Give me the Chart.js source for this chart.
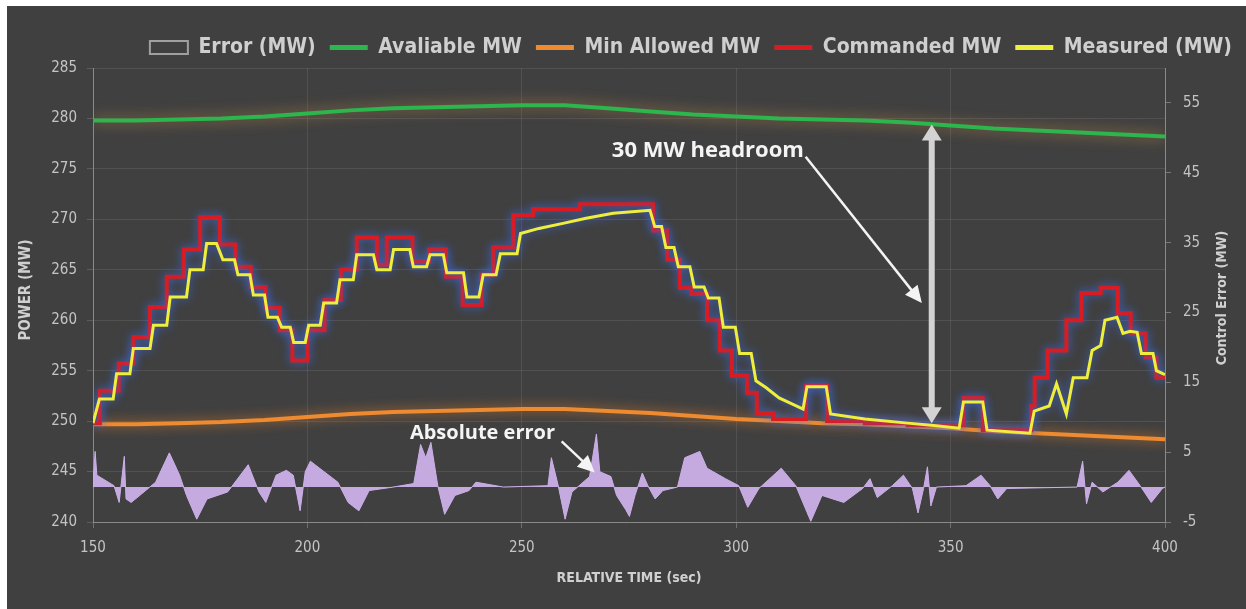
<!DOCTYPE html>
<html>
<head>
<meta charset="utf-8">
<script src="https://cdn.jsdelivr.net/npm/chart.js@4.4.1/dist/chart.umd.min.js"></script>
<style>
  html, body { margin: 0; padding: 0; background: #ffffff; }
  #wrap { position: absolute; left: 7px; top: 6px; width: 1239px; height: 603px; background: #404040; }
</style>
</head>
<body>
<div id="wrap"><canvas id="chart"></canvas></div>
<script>
// x ticks, y ticks
const timeTicks = [150, 200, 250, 300, 350, 400];
const powerTicks = [240, 245, 250, 255, 260, 265, 270, 275, 280, 285];
const errorTicks = [-5, 5, 15, 25, 35, 45, 55];

// Available / min allowed (sampled every 10 s)
const availT  = [150, 160, 170, 180, 190, 200, 210, 220, 230, 240, 250, 260, 270, 280, 290, 300, 310, 320, 330, 340, 350, 360, 370, 380, 390, 400];
const availMW = [279.8, 279.8, 279.9, 280.0, 280.2, 280.5, 280.8, 281.0, 281.1, 281.2, 281.3, 281.3, 281.0, 280.7, 280.4, 280.2, 280.0, 279.9, 279.8, 279.6, 279.3, 279.0, 278.8, 278.6, 278.4, 278.2];
const minMW   = [249.7, 249.7, 249.8, 249.9, 250.1, 250.4, 250.7, 250.9, 251.0, 251.1, 251.2, 251.2, 251.0, 250.8, 250.5, 250.2, 250.0, 249.8, 249.7, 249.5, 249.3, 249.0, 248.8, 248.6, 248.4, 248.2];

// Commanded MW: time of each set-point change and the new value
const cmdT  = [150, 151.6, 156, 159.4, 163.3, 167.2, 171.2, 175, 179.6, 183.2,
               186.8, 190.2, 193.6, 196.5, 200, 204, 207.8, 211.5, 216.2, 218.5,
               224.5, 228.4, 232.3, 236.2, 240.6, 243.3, 248, 252.6, 263.6, 280.6,
               283.9, 286.9, 289.5, 293.2, 296.2, 299, 302.5, 304.8, 308.6, 316.3,
               321.2, 330, 340, 353, 357.5, 368.8, 369.6, 372.6, 377, 380.5,
               385, 389, 392, 395.5, 398, 400];
const cmdMW = [249.8, 253, 255.7, 258.3, 261.3, 264.3, 267, 270.2, 267.5, 265.3,
               263.3, 261.2, 259, 256, 259, 262, 265, 268.2, 265.5, 268.2,
               265.8, 267, 264.3, 261.5, 264.5, 267.2, 270.4, 271, 271.5, 268.9,
               266, 263.2, 262.6, 260, 257, 254.5, 252.8, 250.8, 250.2, 253.5,
               250, 249.8, 249.6, 252.3, 249.1, 251.5, 254.3, 257, 260, 262.7,
               263.2, 260.7, 258.7, 256.3, 254.3, 254.3];

// Measured MW
const measT  = [150, 151.5, 154.7, 155.5, 158.6, 159.4, 163.3, 164.1, 167.2, 168,
                171.8, 172.6, 175.7, 176.5, 178.8, 180.3, 183, 183.8, 186.6, 187.4,
                190, 190.8, 193, 194, 196, 196.8, 199.5, 200.3, 203, 203.8,
                206.8, 207.6, 210.7, 211.5, 215.4, 216.2, 219.3, 220.1, 223.9, 224.7,
                227.8, 228.6, 231.7, 232.5, 236.4, 237.2, 240, 241, 244, 245,
                248.9, 249.7, 254, 259.6, 265, 271.3, 279.9, 281, 282.6, 283.6,
                285.5, 286.5, 289.2, 290.2, 292.5, 293.5, 296, 297, 299.8, 300.8,
                303.5, 304.6, 307, 310, 315.6, 316.5, 321, 322, 330, 340,
                345.5, 352, 353, 357.5, 358.5, 368.5, 369.5, 373, 374.7, 377,
                378.6, 381.8, 383, 385, 386, 388.8, 390.2, 391.8, 393.5, 394.5,
                397.2, 398, 400];
const measMW = [249.8, 252.2, 252.2, 254.7, 254.7, 257.2, 257.2, 259.5, 259.5, 262.3,
                262.3, 265, 265, 267.6, 267.6, 266, 266, 264.5, 264.5, 262.5,
                262.5, 260.3, 260.3, 259.3, 259.3, 257.8, 257.8, 259.5, 259.5, 261.7,
                261.7, 264, 264, 266.5, 266.5, 265, 265, 267, 267, 265.3,
                265.3, 266.5, 266.5, 264.7, 264.7, 262.3, 262.3, 264.5, 264.5, 266.6,
                266.6, 268.6, 269.1, 269.6, 270.1, 270.6, 270.9, 269.3, 269.3, 267.2,
                267.2, 265.3, 265.3, 263.3, 263.3, 262.2, 262.2, 259.3, 259.3, 256.7,
                256.7, 254, 253.3, 252.3, 251.2, 253.4, 253.4, 250.7, 250.2, 249.8,
                249.6, 249.3, 251.9, 251.9, 249.1, 248.8, 251, 251.5, 253.7, 250.7,
                254.3, 254.3, 257, 257.5, 260, 260.3, 258.7, 258.9, 258.8, 256.7,
                256.7, 255, 254.6];

// Control error (right axis)
const errT  = [150, 150.1, 150.5, 150.9, 154.9, 156.1, 157.3, 157.7, 158.9, 161.3,
               164.6, 167.8, 170.2, 171.8, 174.2, 176.6, 181.4, 186.2, 188.7, 190.3,
               192.7, 195.1, 196.7, 198.3, 199.5, 200.7, 207.1, 209.5, 212, 214.4,
               220, 224.8, 226.4, 227.6, 228.8, 230.4, 232, 234.4, 237.7, 239.3,
               245.7, 256.1, 256.9, 258.5, 260.1, 261.7, 265.8, 267.4, 268.2, 270.8,
               272.1, 274.2, 275.1, 276.4, 278.1, 279.4, 281.1, 282.9, 286.3, 288,
               291.5, 293.2, 297.5, 300.6, 302.7, 305.3, 310.5, 313.9, 317.4, 320,
               325.1, 329.5, 331.2, 332.9, 336.4, 339, 341.1, 342.4, 343.7, 344.6,
               345.4, 346.7, 353.6, 357.1, 359.2, 361, 363.1, 379.5, 380.8, 381.7,
               383, 385.5, 389, 391.6, 394.2, 396.8, 399.4, 400];
const errMW = [0, 1.5, 5.1, 1.7, 0.2, -2.2, 4.4, -1.7, -2.2, -1.0,
               0.7, 4.9, 1.7, -1.2, -4.6, -1.7, -0.7, 3.2, -0.7, -2.2,
               1.7, 2.4, 1.7, -3.4, 2.2, 3.7, 0.7, -2.2, -3.4, -0.5,
               0, 0.5, 6.1, 4.2, 6.4, 0.2, -3.9, -1.2, -0.5, 0.7,
               0, 0.2, 4.2, 0.2, -4.6, -0.7, 1.5, 7.6, 2.2, 1.5,
               -1.2, -3.2, -4.2, -1.2, 2.0, 0.2, -1.7, -0.5, 0, 4.2,
               5.1, 2.7, 1.2, 0.2, -2.9, -0.2, 2.7, 0.2, -4.9, -1.2,
               -2.2, -0.2, 1.2, -1.5, 0.2, 1.7, -0.2, -3.7, -0.2, 2.9,
               -2.7, 0, 0.2, 1.7, 0.2, -1.7, -0.2, 0, 3.7, -2.4,
               0.7, -0.7, 0.7, 2.4, 0.2, -2.2, -0.2, 0];

// annotation anchors (data coordinates)
const headroomX = 345.6, headroomTop = 279.4, headroomBottom = 249.8;
const headroomLabel = { text: '30 MW headroom', x: 271, y: 276.8, from: [316.2, 276.2], to: [343.3, 261.7] };
const errorLabel = { text: 'Absolute error', x: 223.9, y: 248.8, from: [259.3, 248.0], to: [267.0, 244.9] };

const pts = (ts, vs) => ts.map((t, i) => ({ x: t, y: vs[i] }));
const FONT = '"DejaVu Sans Condensed", "DejaVu Sans", sans-serif';
const ANNOT_FONT = '"Open Sans", "DejaVu Sans", sans-serif';

const glowPlugin = {
  id: 'glow',
  beforeDatasetDraw(chart, args) {
    const ds = chart.data.datasets[args.index];
    chart.ctx.save();
    if (ds.glow) {
      chart.ctx.shadowColor = ds.glow;
      chart.ctx.shadowBlur = ds.glowBlur;
    }
  },
  afterDatasetDraw(chart) {
    chart.ctx.restore();
  }
};

function drawHead(ctx, x1, y1, x2, y2, len, half) {
  const a = Math.atan2(y2 - y1, x2 - x1);
  const bx = x2 - len * Math.cos(a), by = y2 - len * Math.sin(a);
  ctx.beginPath();
  ctx.moveTo(x2, y2);
  ctx.lineTo(bx + half * Math.sin(a), by - half * Math.cos(a));
  ctx.lineTo(bx - half * Math.sin(a), by + half * Math.cos(a));
  ctx.closePath();
  ctx.fill();
}

function drawPointer(ctx, x1, y1, x2, y2) {
  const a = Math.atan2(y2 - y1, x2 - x1);
  ctx.beginPath();
  ctx.moveTo(x1, y1);
  ctx.lineTo(x2 - 14 * Math.cos(a), y2 - 14 * Math.sin(a));
  ctx.stroke();
  drawHead(ctx, x1, y1, x2, y2, 17, 8);
}

const notesPlugin = {
  id: 'notes',
  afterDatasetsDraw(chart) {
    const { ctx, scales: { x, y } } = chart;
    ctx.save();
    // double arrow
    const ax = x.getPixelForValue(headroomX);
    const at = y.getPixelForValue(headroomTop);
    const ab = y.getPixelForValue(headroomBottom);
    ctx.strokeStyle = '#d3d3d3';
    ctx.fillStyle = '#d3d3d3';
    ctx.lineWidth = 6;
    ctx.beginPath();
    ctx.moveTo(ax, at + 14);
    ctx.lineTo(ax, ab - 14);
    ctx.stroke();
    drawHead(ctx, ax, ab, ax, at, 16, 10);
    drawHead(ctx, ax, at, ax, ab, 16, 10);

    // labels with pointers
    ctx.fillStyle = '#f4f4f4';
    ctx.strokeStyle = '#f4f4f4';
    ctx.lineWidth = 2.5;
    ctx.textBaseline = 'middle';
    ctx.textAlign = 'left';
    ctx.font = 'bold 22px ' + ANNOT_FONT;
    ctx.fillText(headroomLabel.text, x.getPixelForValue(headroomLabel.x), y.getPixelForValue(headroomLabel.y));
    drawPointer(ctx, x.getPixelForValue(headroomLabel.from[0]), y.getPixelForValue(headroomLabel.from[1]),
                x.getPixelForValue(headroomLabel.to[0]), y.getPixelForValue(headroomLabel.to[1]));
    ctx.font = 'bold 20px ' + ANNOT_FONT;
    ctx.fillText(errorLabel.text, x.getPixelForValue(errorLabel.x), y.getPixelForValue(errorLabel.y));
    drawPointer(ctx, x.getPixelForValue(errorLabel.from[0]), y.getPixelForValue(errorLabel.from[1]),
                x.getPixelForValue(errorLabel.to[0]), y.getPixelForValue(errorLabel.to[1]));
    ctx.restore();
  }
};

const axisTitlePlugin = {
  id: 'axisTitles',
  afterDraw(chart) {
    const { ctx, chartArea: ca } = chart;
    const midY = (ca.top + ca.bottom) / 2;
    ctx.save();
    ctx.fillStyle = '#d0d0d0';
    ctx.textAlign = 'center';
    ctx.textBaseline = 'middle';
    ctx.font = 'bold 14px ' + FONT;
    ctx.fillText('RELATIVE TIME (sec)', (ca.left + ca.right) / 2, ca.bottom + 56);
    ctx.save();
    ctx.translate(19, midY - 5);
    ctx.rotate(-Math.PI / 2);
    ctx.font = 'bold 15px ' + FONT;
    ctx.fillText('POWER (MW)', 0, 0);
    ctx.restore();
    ctx.translate(ca.right + 57, midY + 3);
    ctx.rotate(-Math.PI / 2);
    ctx.font = 'bold 14px ' + FONT;
    ctx.fillText('Control Error (MW)', 0, 0);
    ctx.restore();
  }
};

const gridColor = 'rgba(255,255,255,0.09)';
const tickFont = { family: FONT, size: 15 };

new Chart(document.getElementById('chart'), {
  type: 'line',
  data: {
    datasets: [
      { label: 'Error (MW)', data: pts(errT, errMW), yAxisID: 'y2', order: 5,
        borderColor: '#cbb0e8', borderWidth: 1, backgroundColor: 'rgba(203,176,232,0.95)', fill: 'origin' },
      { label: 'Avaliable MW', data: pts(availT, availMW), yAxisID: 'y', order: 4,
        borderColor: '#2db54e', borderWidth: 4, glow: 'rgba(205,150,70,0.75)', glowBlur: 14 },
      { label: 'Min Allowed MW', data: pts(availT, minMW), yAxisID: 'y', order: 3,
        borderColor: '#ee8a2f', borderWidth: 4, glow: 'rgba(235,130,40,0.8)', glowBlur: 12 },
      { label: 'Commanded MW', data: pts(cmdT, cmdMW), yAxisID: 'y', order: 2, stepped: true,
        borderColor: '#d91c22', borderWidth: 4, glow: 'rgba(60,110,235,0.9)', glowBlur: 10 },
      { label: 'Measured (MW)', data: pts(measT, measMW), yAxisID: 'y', order: 1,
        borderColor: '#f0ee3c', borderWidth: 3, glow: 'rgba(60,110,235,0.9)', glowBlur: 10 }
    ]
  },
  options: {
    responsive: true,
    maintainAspectRatio: false,
    animation: false,
    layout: { padding: { top: 17, left: 0, right: 0, bottom: 0 } },
    elements: { point: { radius: 0 }, line: { tension: 0 } },
    plugins: {
      tooltip: { enabled: false },
      legend: {
        position: 'top',
        align: 'end',
        labels: {
          color: '#cfcfcf',
          font: { family: FONT, size: 21, weight: 'bold' },
          usePointStyle: true,
          pointStyleWidth: 38,
          boxHeight: 13,
          padding: 14,
          generateLabels: (chart) => chart.data.datasets.map((ds, i) => ({
            text: ds.label,
            datasetIndex: i,
            fontColor: '#cfcfcf',
            fillStyle: i === 0 ? 'rgba(0,0,0,0)' : ds.borderColor,
            strokeStyle: i === 0 ? '#a0a0a0' : ds.borderColor,
            lineWidth: i === 0 ? 2 : 5,
            pointStyle: i === 0 ? 'rect' : 'line',
            hidden: !chart.isDatasetVisible(i)
          }))
        }
      }
    },
    scales: {
      x: {
        type: 'linear', min: 150, max: 400,
        afterFit: (s) => { s.height = 87; },
        afterBuildTicks: (s) => { s.ticks = timeTicks.map(v => ({ value: v })); },
        ticks: { color: '#c4c4c4', font: tickFont, padding: 11, maxRotation: 0 },
        grid: { color: gridColor, tickColor: 'rgba(255,255,255,0.25)', tickLength: 6 },
        border: { color: '#8a8a8a', width: 1 }
      },
      y: {
        position: 'left', min: 240, max: 285,
        afterFit: (s) => { s.width = 86; },
        afterBuildTicks: (s) => { s.ticks = powerTicks.map(v => ({ value: v })); },
        ticks: { color: '#c4c4c4', font: tickFont, padding: 10 },
        grid: { color: gridColor, tickColor: 'rgba(255,255,255,0.15)', tickLength: 6 },
        border: { color: '#8a8a8a', width: 1 }
      },
      y2: {
        position: 'right', min: -5, max: 60,
        afterFit: (s) => { s.width = 81; },
        afterBuildTicks: (s) => { s.ticks = errorTicks.map(v => ({ value: v })); },
        ticks: { color: '#c4c4c4', font: tickFont, padding: 12 },
        grid: { drawOnChartArea: false, tickColor: 'rgba(255,255,255,0.3)', tickLength: 6 },
        border: { color: '#8a8a8a', width: 1 }
      }
    }
  },
  plugins: [glowPlugin, notesPlugin, axisTitlePlugin]
});
</script>
</body>
</html>
